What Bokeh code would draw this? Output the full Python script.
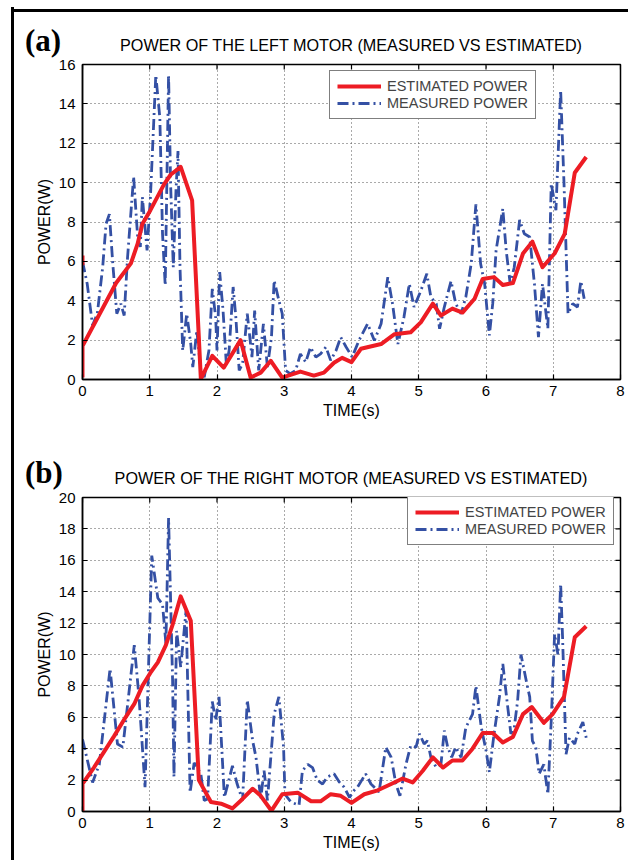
from bokeh.plotting import figure
from bokeh.models import Range1d, Legend, LegendItem, FixedTicker, Div
from bokeh.layouts import column, row
from bokeh.embed import file_html
from bokeh.resources import INLINE

NAN = float("nan")

# ---------------- data: left motor ----------------
left_est_t = [0.0, 0.0, NAN, 0.0, 0.0, 0.5, 0.72, 0.82, 0.89, 1.01, 1.21, 1.31, 1.46, 1.63, 1.76,
              1.93, 2.1, 2.35, 2.5, 2.65, 2.8, 2.97, 3.24, 3.44, 3.59, 3.74, 3.86, 4.0, 4.14,
              4.44, 4.64, 4.88, 5.03, 5.21, 5.33, 5.5, 5.65, 5.83, 5.95, 6.12, 6.25, 6.4,
              6.55, 6.69, 6.84, 7.02, 7.17, 7.32, 7.49]
left_est_p = [6.3, 5.8, NAN, 0.1, 1.7, 4.9, 5.9, 6.9, 7.9, 8.6, 9.9, 10.4, 10.8, 9.1, 0.03,
              1.2, 0.6, 2.0, 0.1, 0.35, 0.95, 0.1, 0.4, 0.2, 0.35, 0.85, 1.1, 0.88, 1.56,
              1.8, 2.3, 2.4, 2.9, 3.85, 3.25, 3.6, 3.4, 4.1, 5.1, 5.2, 4.8, 4.9,
              6.4, 7.0, 5.7, 6.4, 7.4, 10.5, 11.3]

left_meas_t = [0.0, 0.07, 0.15, 0.22, 0.3, 0.35, 0.4, 0.45, 0.51, 0.57, 0.62, 0.67, 0.76, 0.82,
               0.86, 0.89, 0.96, 1.01, 1.09, 1.15, 1.19, 1.23, 1.28, 1.31, 1.35, 1.39, 1.42,
               1.45, 1.49, 1.55, 1.61, 1.64, 1.7, 1.76, 1.81, 1.88, 1.93, 1.98, 2.0, 2.04,
               2.09, 2.14, 2.18, 2.24, 2.28, 2.33, 2.38, 2.45, 2.52, 2.56, 2.62, 2.69, 2.75,
               2.81, 2.85, 2.92, 2.97, 3.02, 3.09, 3.17, 3.24, 3.32, 3.39, 3.47,
               3.54, 3.62, 3.69, 3.77, 3.84, 3.92, 4.01, 4.11, 4.24, 4.34, 4.44, 4.54, 4.61,
               4.69, 4.78, 4.86, 4.93, 5.03, 5.12, 5.18, 5.26, 5.31, 5.38, 5.48, 5.55, 5.63,
               5.7, 5.78, 5.85, 5.92, 5.98, 6.05, 6.1, 6.15, 6.25, 6.3, 6.36, 6.42, 6.5,
               6.57, 6.65, 6.72, 6.78, 6.84, 6.92, 6.97, 7.04, 7.11, 7.16, 7.22, 7.29, 7.36,
               7.41, 7.46]
left_meas_p = [6.0, 4.86, 2.75, 3.34, 5.7, 7.9, 8.4, 5.9, 3.34, 3.85, 3.25, 6.2, 10.3, 7.24,
               6.73, 9.27, 6.56, 9.27, 15.46, 13.3, 7.4, 4.78, 15.46, 9.95, 5.7, 9.6, 11.6,
               5.7, 1.47, 3.34, 1.81, 0.63, 2.49, 0.46, 0.12, 1.47, 4.6, 3.17, 1.47, 5.46,
               3.5, 0.71, 1.47, 4.7, 3.17, 0.46, 0.8, 3.34, 1.14, 3.5, 0.46, 2.83, 0.63,
               2.15, 5.03, 4.02, 3.34, 0.46, 0.29, 0.46, 1.3, 0.88, 1.64, 1.14,
               1.3, 1.65, 0.97, 1.47, 2.15, 1.65, 1.14, 1.98, 2.83, 1.98, 2.83, 5.2, 3.85,
               1.8, 3.17, 4.86, 3.68, 4.5, 5.37, 4.19, 3.85, 2.58, 3.68, 5.0, 3.85, 3.34,
               4.19, 5.88, 8.9, 5.88, 4.86, 2.24, 3.85, 6.56, 8.68, 6.56, 4.86, 5.7, 8.1,
               7.4, 7.24, 4.86, 2.15, 4.86, 2.58, 9.95, 8.6, 14.7, 9.95, 3.34, 3.85, 3.68,
               5.0, 4.1]

# ---------------- data: right motor ----------------
right_est_t = [0.0, 0.0, 0.17, 0.32, 0.47, 0.64, 0.77, 0.89, 1.02, 1.12, 1.24, 1.34, 1.46, 1.61,
               1.73, 1.91, 2.06, 2.23, 2.38, 2.53, 2.65, 2.81, 2.97, 3.2, 3.4, 3.54, 3.69,
               3.84, 4.0, 4.19, 4.39, 4.59, 4.76, 4.91, 5.06, 5.21, 5.36, 5.5, 5.65, 5.8,
               5.95, 6.1, 6.25, 6.4, 6.55, 6.68, 6.86, 6.99, 7.16, 7.32, 7.49]
right_est_p = [0.0, 1.76, 2.8, 3.8, 4.8, 6.0, 6.85, 8.0, 8.9, 9.5, 10.6, 11.9, 13.7, 12.15,
               2.0, 0.6, 0.5, 0.2, 0.8, 1.45, 1.0, 0.05, 1.1, 1.2, 0.65, 0.65, 1.1,
               1.0, 0.55, 1.1, 1.35, 1.75, 2.1, 1.85, 2.6, 3.45, 2.8, 3.25, 3.25, 4.0,
               5.0, 5.0, 4.4, 4.75, 6.2, 6.65, 5.65, 6.2, 7.3, 11.1, 11.8]

right_meas_t = [0.0, 0.15, 0.25, 0.41, 0.52, 0.6, 0.77, 0.84, 0.93, 1.03, 1.12, 1.19, 1.24, 1.28,
                1.34, 1.36, 1.4, 1.46, 1.54, 1.6, 1.66, 1.76, 1.81, 1.86, 1.93, 1.98, 2.03,
                2.11, 2.23, 2.3, 2.38, 2.45, 2.53, 2.58, 2.65, 2.7, 2.75, 2.85, 2.92, 2.99,
                3.01, 3.1, 3.22, 3.27, 3.35, 3.42, 3.49, 3.57, 3.64, 3.74, 3.82, 3.89, 3.97,
                4.04, 4.09, 4.21, 4.29, 4.41, 4.51, 4.59, 4.66, 4.72, 4.81, 4.88, 4.96, 5.01,
                5.08, 5.13, 5.18, 5.26, 5.33, 5.38, 5.43, 5.49, 5.55, 5.63, 5.7, 5.8, 5.85,
                5.93, 6.0, 6.05, 6.12, 6.2, 6.25, 6.3, 6.37, 6.42, 6.47, 6.52, 6.6, 6.65,
                6.69, 6.74, 6.79, 6.86, 6.92, 6.97, 7.02, 7.07, 7.11, 7.14, 7.19, 7.24, 7.32,
                7.36, 7.44, 7.49]
right_meas_p = [4.6, 1.85, 3.0, 9.1, 4.3, 4.1, 10.6, 7.3, 1.55, 16.3, 13.6, 13.2, 10.7, 18.7,
                8.3, 2.2, 11.5, 9.2, 12.8, 1.2, 3.1, 2.4, 0.7, 0.8, 7.0, 5.8, 7.3,
                0.9, 2.9, 1.75, 0.7, 7.1, 4.5, 3.45, 0.8, 2.6, 0.7, 6.2, 7.3, 4.1,
                1.1, 0.6, 0.4, 2.6, 3.0, 2.8, 2.0, 1.75, 2.2, 2.4, 1.87, 1.55, 0.9,
                1.35, 1.55, 2.4, 1.75, 1.25, 4.1, 3.45, 1.75, 1.0, 3.0, 4.2, 4.1, 4.95,
                4.3, 4.5, 3.45, 2.8, 3.0, 5.15, 4.1, 3.45, 4.1, 3.45, 5.35, 6.2, 8.0,
                5.35, 3.9, 2.5, 4.95, 7.3, 9.4, 7.5, 4.95, 5.35, 7.05, 10.0, 8.3, 7.3,
                4.5, 4.1, 2.4, 3.0, 1.1, 5.8, 11.3, 10.0, 14.5, 10.9, 3.65, 4.7, 4.3,
                4.95, 5.7, 4.7]

x_ticks = [0, 1, 2, 3, 4, 5, 6, 7, 8]
left_y_ticks = [0, 2, 4, 6, 8, 10, 12, 14, 16]
right_y_ticks = [0, 2, 4, 6, 8, 10, 12, 14, 16, 18, 20]

TITLES = ["POWER OF THE LEFT MOTOR (MEASURED VS ESTIMATED)",
          "POWER OF THE RIGHT MOTOR (MEASURED VS ESTIMATED)"]
LETTERS = ["(a)", "(b)"]
LEG_LABELS = ["ESTIMATED POWER", "MEASURED POWER"]

RED = "#ED1C24"
BLUE = "#3450A4"
FONT = "Liberation Sans"

FRAME_W = 538
LEFT_B = 68
RIGHT_B = 8
FIG_W = LEFT_B + FRAME_W + RIGHT_B


def header(letter, title, height, letter_top, title_top):
    d_letter = Div(text=('<div style="margin:%dpx 0 0 11px;font-family:\'Liberation Serif\';'
                         'font-weight:bold;font-size:31px;line-height:31px;color:black;'
                         'white-space:nowrap">%s</div>') % (letter_top, letter),
                   width=LEFT_B, height=height, margin=0)
    d_title = Div(text=('<div style="margin-top:%dpx;width:%dpx;text-align:center;'
                        'font-family:\'Liberation Sans\';font-size:16.2px;line-height:16px;'
                        'color:black;white-space:nowrap">%s</div>') % (title_top, FRAME_W, title),
                  width=FRAME_W, height=height, margin=0)
    return row(d_letter, d_title, spacing=0)


def panel(et, ep, mt, mp, yticks, height, top, bottom, leg_loc):
    ymax = yticks[-1]
    fh = height - top - bottom
    p = figure(width=FIG_W, height=height, x_range=Range1d(0, 8), y_range=Range1d(0, ymax),
               output_backend="svg", toolbar_location=None,
               min_border_left=LEFT_B, min_border_right=RIGHT_B,
               min_border_top=top, min_border_bottom=bottom)
    p.background_fill_color = "white"
    p.border_fill_color = "white"
    p.outline_line_color = "black"
    p.outline_line_width = 1.5

    p.xaxis.ticker = FixedTicker(ticks=x_ticks)
    p.xaxis.axis_label = "TIME(s)"
    p.yaxis.ticker = FixedTicker(ticks=yticks)
    p.yaxis.axis_label = "POWER(W)"
    for ax in list(p.xaxis) + list(p.yaxis):
        ax.major_tick_in = 5
        ax.major_tick_out = 0
        ax.minor_tick_line_color = None
        ax.axis_line_width = 1.5
        ax.major_tick_line_width = 1.2
        ax.major_label_text_font = FONT
        ax.major_label_text_font_size = "15px"
        ax.major_label_text_color = "black"
        ax.axis_label_text_font = FONT
        ax.axis_label_text_font_size = "16px"
        ax.axis_label_text_font_style = "normal"
        ax.axis_label_text_color = "black"
    p.xaxis.major_label_standoff = 6
    p.xaxis.axis_label_standoff = 3
    p.yaxis.major_label_standoff = 7
    p.yaxis.axis_label_standoff = 3

    p.xgrid.ticker = FixedTicker(ticks=x_ticks)
    p.ygrid.ticker = FixedTicker(ticks=yticks)
    for g in (p.xgrid, p.ygrid):
        g.grid_line_color = "#555555"
        g.grid_line_dash = "1 3"
        g.grid_line_width = 1

    # inward ticks on the top and right edges of the box
    dy = ymax * 5.0 / fh
    dx = 8 * 5.0 / FRAME_W
    p.segment(x0=x_ticks, y0=[ymax] * len(x_ticks), x1=x_ticks, y1=[ymax - dy] * len(x_ticks),
              line_color="black", line_width=1.2)
    p.segment(x0=[8] * len(yticks), y0=yticks, x1=[8 - dx] * len(yticks), y1=yticks,
              line_color="black", line_width=1.2)

    r_meas = p.line(mt, mp, line_color=BLUE, line_width=2.8, line_dash="11 4 2 4")
    r_est = p.line(et, ep, line_color=RED, line_width=4, line_join="round")

    legend = Legend(items=[LegendItem(label=LEG_LABELS[0], renderers=[r_est]),
                           LegendItem(label=LEG_LABELS[1], renderers=[r_meas])],
                    location=leg_loc, margin=0, padding=7, spacing=1,
                    glyph_width=44, glyph_height=16, label_standoff=6,
                    label_text_font=FONT, label_text_font_size="14.5px",
                    border_line_color="black", border_line_width=1.5,
                    background_fill_color="white", background_fill_alpha=1)
    p.add_layout(legend, "center")
    return p


# frame box: top panel frame y 64..379, bottom panel frame y 497..811
h1 = header(LETTERS[0], TITLES[0], 50, 18, 30)          # y 7..57
p1 = panel(left_est_t, left_est_p, left_meas_t, left_meas_p,
           left_y_ticks, 376, 7, 54, (247, 260))       # y 57..433
h2 = header(LETTERS[1], TITLES[1], 57, 24, 37)          # y 433..490
p2 = panel(right_est_t, right_est_p, right_meas_t, right_meas_p,
           right_y_ticks, 368, 7, 47, (325, 266))      # y 490..858

top_bar = Div(text='<div style="margin:4px 0 0 11px;width:617px;height:3px;background:black"></div>',
              width=FIG_W + 14, height=7, margin=0)
left_bar = Div(text='<div style="margin-left:11px;width:3px;height:853px;background:black"></div>',
               width=14, height=853, margin=0)

layout = column(top_bar, row(left_bar, column(h1, p1, h2, p2, spacing=0), spacing=0), spacing=0)

open("out.html", "w").write(file_html(layout, INLINE))
